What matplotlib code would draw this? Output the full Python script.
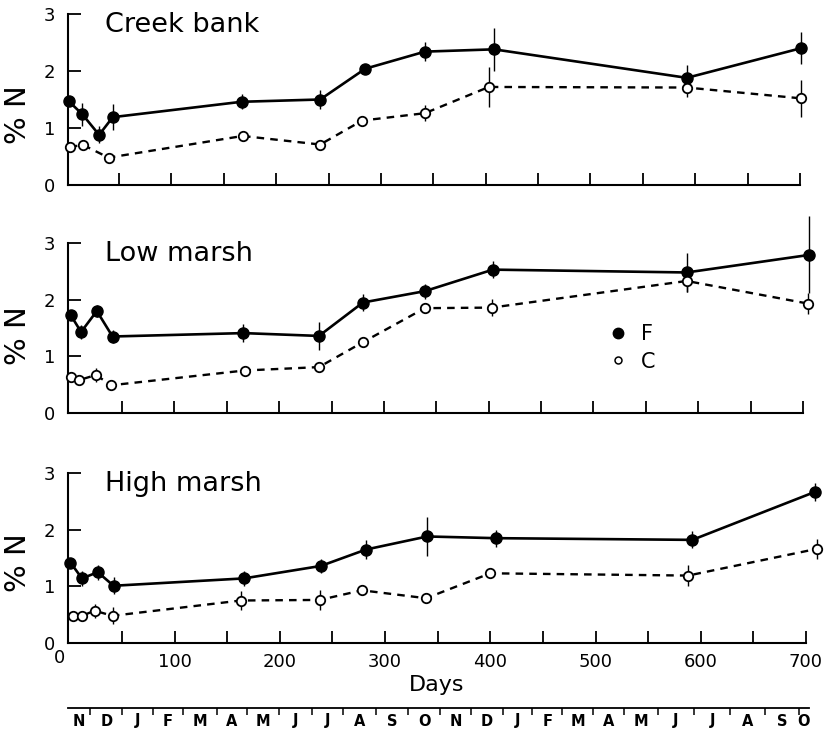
import matplotlib
matplotlib.use('Agg')
import numpy as np
import matplotlib.pyplot as plt
from matplotlib.lines import Line2D

plt.rcParams['font.family'] = ['DejaVu Sans']

# ---------------- data ----------------
site_names = ["Creek bank", "Low marsh", "High marsh"]

cb_f_days = [2, 15, 31, 44, 167, 242, 285, 342, 408, 592, 701]
cb_f_vals = [1.47, 1.24, 0.88, 1.19, 1.46, 1.50, 2.04, 2.34, 2.38, 1.88, 2.40]
cb_f_err = [0.05, 0.20, 0.15, 0.23, 0.13, 0.17, 0.05, 0.17, 0.38, 0.23, 0.28]
cb_c_days = [3, 16, 40, 168, 242, 282, 342, 403, 592, 701]
cb_c_vals = [0.67, 0.70, 0.48, 0.86, 0.71, 1.13, 1.26, 1.72, 1.71, 1.52]
cb_c_err = [0.03, 0.03, 0.03, 0.03, 0.03, 0.03, 0.14, 0.35, 0.16, 0.33]

lm_f_days = [1, 11, 26, 41, 166, 238, 280, 339, 404, 589, 706]
lm_f_vals = [1.73, 1.43, 1.80, 1.35, 1.41, 1.36, 1.95, 2.15, 2.53, 2.48, 2.79]
lm_f_err = [0.05, 0.12, 0.10, 0.12, 0.16, 0.25, 0.15, 0.13, 0.15, 0.34, 0.68]
lm_c_days = [1, 9, 25, 40, 167, 238, 280, 339, 403, 589, 705]
lm_c_vals = [0.64, 0.58, 0.67, 0.49, 0.75, 0.81, 1.25, 1.85, 1.86, 2.33, 1.93]
lm_c_err = [0.03, 0.03, 0.13, 0.03, 0.03, 0.03, 0.03, 0.05, 0.15, 0.19, 0.18]

hm_f_days = [1, 12, 27, 42, 166, 239, 282, 340, 405, 592, 709]
hm_f_vals = [1.42, 1.14, 1.25, 1.01, 1.14, 1.36, 1.65, 1.88, 1.85, 1.82, 2.67]
hm_f_err = [0.05, 0.13, 0.13, 0.15, 0.13, 0.13, 0.16, 0.34, 0.15, 0.15, 0.16]
hm_c_days = [3, 12, 24, 41, 163, 238, 278, 339, 400, 588, 710]
hm_c_vals = [0.48, 0.48, 0.57, 0.48, 0.75, 0.76, 0.93, 0.79, 1.23, 1.19, 1.66]
hm_c_err = [0.03, 0.03, 0.12, 0.15, 0.16, 0.18, 0.05, 0.03, 0.03, 0.18, 0.18]

y_ticks = [0, 1, 2, 3]
x_ticks = list(range(50, 701, 50))

month_labels = ["N", "D", "J", "F", "M", "A", "M", "J", "J", "A", "S", "O",
                "N", "D", "J", "F", "M", "A", "M", "J", "J", "A", "S", "O"]
month_bounds = [20, 50, 79, 108, 140, 169, 199, 231, 260, 291, 322, 352,
                382, 412, 440, 468, 498, 527, 559, 594, 628, 661, 693]
month_start, month_end = -1.3, 703

legend_labels = ["F", "C"]

# ---------------- layout ----------------
W, H = 831, 732
fig = plt.figure(figsize=(W / 100, H / 100), dpi=100)

panels = [
    dict(top=14, bottom=185, right=800, xmin=1.3, ylab_px=115, name=site_names[0],
         f=(cb_f_days, cb_f_vals, cb_f_err), c=(cb_c_days, cb_c_vals, cb_c_err)),
    dict(top=243, bottom=413, right=803, xmin=-1.5, ylab_px=336, name=site_names[1],
         f=(lm_f_days, lm_f_vals, lm_f_err), c=(lm_c_days, lm_c_vals, lm_c_err)),
    dict(top=473, bottom=643, right=806, xmin=-1.3, ylab_px=563, name=site_names[2],
         f=(hm_f_days, hm_f_vals, hm_f_err), c=(hm_c_days, hm_c_vals, hm_c_err)),
]

axes = []
for i, p in enumerate(panels):
    ax = fig.add_axes([68 / W, 1 - p['bottom'] / H, (p['right'] - 68) / W,
                       (p['bottom'] - p['top']) / H])
    axes.append(ax)
    ax.set_xlim(p['xmin'], 700)
    ax.set_ylim(0, 3)
    for s in ['top', 'right']:
        ax.spines[s].set_visible(False)
    for s in ['left', 'bottom']:
        ax.spines[s].set_linewidth(1.5)

    # error bars
    for (d, v, e) in (p['f'], p['c']):
        eb = ax.errorbar(d, v, yerr=e, fmt='none', ecolor='k', elinewidth=1.0,
                         capsize=0, zorder=2)
        for col in eb[2]:
            col.set_clip_on(False)

    d, v, _ = p['f']
    ax.plot(d, v, color='k', lw=1.9, marker='o', ms=8, mfc='k', mec='k',
            zorder=3, clip_on=False)
    d, v, _ = p['c']
    ax.plot(d, v, color='k', lw=1.7, ls=(0, (3.2, 2.6)), marker='o', ms=6.8,
            mfc='white', mec='k', mew=1.3, zorder=4, clip_on=False)

    ax.set_yticks(y_ticks)
    ax.set_xticks(x_ticks)
    ax.tick_params(axis='both', direction='in', length=9, width=1.3,
                   labelsize=13)
    ax.tick_params(axis='y', pad=9)
    ax.tick_params(axis='x', pad=7)
    if i < 2:
        ax.tick_params(axis='x', labelbottom=False)
    else:
        ax.set_xticklabels([str(t) if t % 100 == 0 else '' for t in x_ticks])
        ax.text(-9, (643 - 658) / 170, "0", fontsize=13, ha='center',
                va='center', transform=ax.get_xaxis_transform())

    fig.text(18 / W, 1 - p['ylab_px'] / H, "% N", fontsize=21, rotation=90,
             ha='center', va='center')

    ax.text(0.05, 2.8, p['name'], fontsize=19.5, ha='left', va='center',
            transform=ax.get_yaxis_transform())

# legend
handles = [Line2D([], [], ls='none', marker='o', ms=7.5, mfc='k', mec='k'),
           Line2D([], [], ls='none', marker='o', ms=5, mfc='white', mec='k', mew=1.1)]
axes[1].legend(handles, legend_labels, loc='center left', frameon=False,
               bbox_to_anchor=(608 / W, 1 - 348 / H), bbox_transform=fig.transFigure,
               fontsize=15, handlelength=1.0, handletextpad=0.6, borderpad=0,
               borderaxespad=0, labelspacing=0.35)

# Days label
fig.text(437 / W, 1 - 685 / H, "Days", fontsize=16, ha='center', va='center')

# month axis
p3 = panels[2]
axm = fig.add_axes([68 / W, 0, (p3['right'] - 68) / W, 24 / H])
axm.set_xlim(p3['xmin'], 700)
axm.axis('off')
tr = axm.get_xaxis_transform()
axm.plot([month_start, month_end], [1, 1], color='k', lw=1.3, transform=tr,
         clip_on=False)
axm.vlines(month_bounds, 1 - 7 / 24, 1, color='k', lw=1.1, transform=tr,
           clip_on=False)
edges = [month_start] + month_bounds + [month_end]
for j, lab in enumerate(month_labels):
    c = 0.5 * (edges[j] + edges[j + 1])
    axm.text(c, 1 - 13 / 24, lab, transform=tr, ha='center', va='center',
             fontsize=10.5, fontweight='bold', clip_on=False)

fig.savefig("out.png", dpi=100)
